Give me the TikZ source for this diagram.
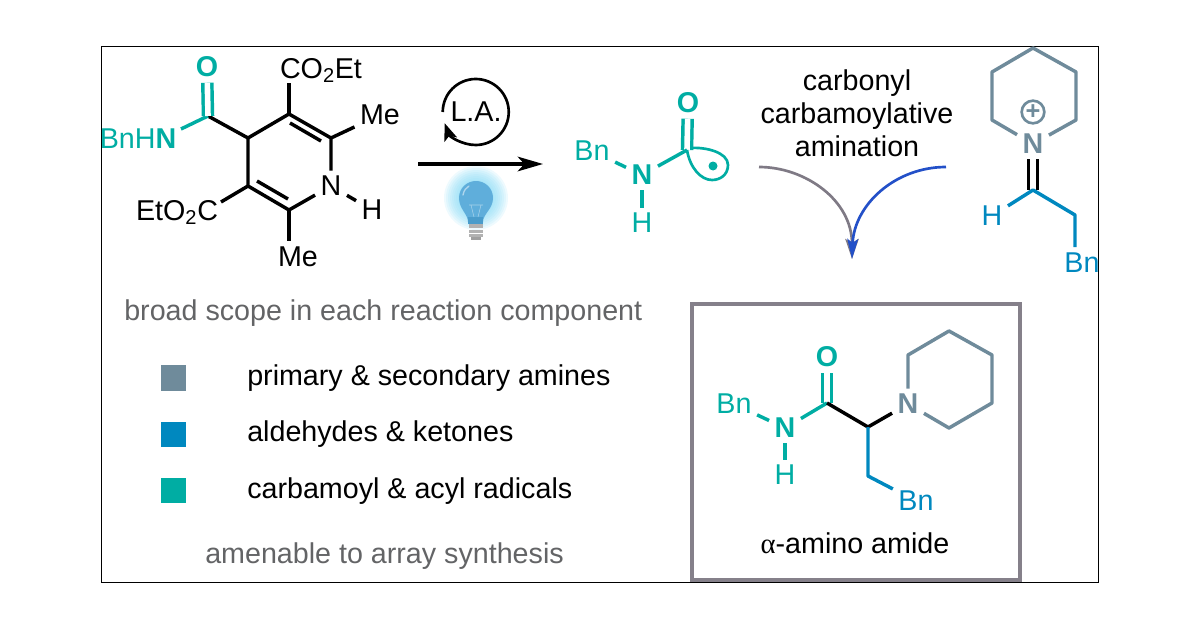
\documentclass[tikz,border=0pt]{standalone}
\usepackage{fontspec}
\setmainfont{Liberation Sans}
\newfontfamily\greekserif{Liberation Serif}
\usetikzlibrary{arrows.meta}
\definecolor{tealc}{HTML}{00ADA3}
\definecolor{slatec}{HTML}{6F8B9B}
\definecolor{bluec}{HTML}{0088BF}
\definecolor{textgray}{HTML}{636466}
\definecolor{boxgray}{HTML}{85808A}
\definecolor{curvegray}{HTML}{7F7A85}
\definecolor{curveblue}{HTML}{2350C8}
\definecolor{glowc}{HTML}{7FD8F5}
\definecolor{bulbc}{HTML}{5FAEDB}
\definecolor{neckc}{HTML}{4A9CCB}
\tikzset{
  atom/.style={inner sep=4pt, font=\fontsize{21.5}{25}\selectfont},
  txtlabel/.style={inner sep=0pt, anchor=base, font=\fontsize{21.5}{25}\selectfont},
  boldatom/.style={atom, font=\fontsize{21.5}{25}\selectfont\bfseries},
  bond/.style={line width=2.6pt, line join=round},
  dbond/.style={bond, double=white, double distance=4.2pt},
  swatch/.style={minimum size=19pt, inner sep=0pt}
}
\begin{document}
\begin{tikzpicture}[x=0.75pt, y=-0.75pt]
  \useasboundingbox (0,0) rectangle (1200,628);
  \draw[line width=0.75pt] (101,46) rectangle (1098,582);
  % dihydropyridine
  \coordinate (c4) at (248,138);
  \coordinate (c3) at (289,114);
  \coordinate (c2) at (331,138);
  \coordinate (c5) at (248,186);
  \coordinate (c6) at (289,210);
  \coordinate (c3in) at (290,123);
  \coordinate (c2in) at (321,141);
  \coordinate (c5in) at (257,181);
  \coordinate (c6in) at (288,199);
  \coordinate (cam) at (208,116);
  \coordinate (camend) at (181,129);
  \coordinate (esttop) at (289,83);
  \coordinate (estlow) at (221,202);
  \coordinate (metop) at (289,241);
  \node[atom] (dhpn) at (331,186) {N};
  \node[atom] (dhph) at (372,210) {H};
  \node[atom] (me1) at (380,115) {Me};
  \node[atom] (me2) at (298,257) {Me};
  \node[boldatom, text=tealc] (camo) at (207,67) {O};
  \node[txtlabel, text=tealc] (bnhn) at (138,148) {BnH\textbf{N}};
  \node[txtlabel] (est1) at (321,78) {CO\textsubscript{2}Et};
  \node[txtlabel] (est2) at (177,220) {EtO\textsubscript{2}C};

  \draw[bond] (cam) -- (c4) -- (c3) -- (c2) -- (dhpn);
  \draw[bond] (c4) -- (c5) -- (c6) -- (dhpn);
  \draw[bond, tealc] (camend) -- (cam);
  \draw[dbond, tealc] (cam) -- (camo);
  \draw[bond] (c3in) -- (c2in);
  \draw[bond] (c5in) -- (c6in);
  \draw[bond] (c3) -- (esttop);
  \draw[bond] (c5) -- (estlow);
  \draw[bond] (c2) -- (me1);
  \draw[bond] (c6) -- (metop);
  \draw[bond] (dhpn) -- (dhph);

  % arrow, catalyst and lamp
  \coordinate (arrowa) at (418,164);
  \coordinate (arrowb) at (543,164);
  \draw[line width=2.3pt, -{Stealth[length=19pt, width=11pt, inset=5pt]}] (arrowa) -- (arrowb);
  \node[atom, circle, minimum size=49.5pt, inner sep=0pt] (la) at (476,112) {L.A.};
  \draw[line width=2pt, -{Stealth[length=13pt, width=10pt, inset=3pt]}] (la.west) arc[start angle=180, end angle=520, radius=33];

  \foreach \r in {18,20,...,32}
    \fill[glowc, opacity=.13] (476,198) circle[radius=\r];
  \fill[bulbc] (468,222) .. controls (468,214) and (459,209) .. (459,198) .. controls (459,188) and (467,181) .. (476,181) .. controls (485,181) and (493,188) .. (493,198) .. controls (493,209) and (483,214) .. (483,222) -- cycle;
  \fill[neckc] (468,217) rectangle (483,224);
  \draw[white, opacity=.45, line width=0.4pt] (469,205) -- (483,205) (471,205) -- (474,217) (481,205) -- (478,217);
  \draw[white, opacity=.5, line width=1pt, line cap=round] (463,195) .. controls (464,190) and (466,188) .. (469,186);
  \fill[gray!60] (469,224) rectangle (483,228);
  \fill[gray!60] (469,229.5) rectangle (483,232.5);
  \fill[gray!60] (469,234) rectangle (483,237);
  \fill[gray!75] (471,237) rectangle (481,240);

  % carbamoyl radical
  \coordinate (radc) at (687,150);
  \node[boldatom, text=tealc] (rado) at (688,103) {O};
  \node[boldatom, text=tealc] (radn) at (642,175) {N};
  \node[atom, text=tealc] (radh) at (642,223) {H};
  \node[atom, text=tealc] (radbn) at (592,151) {Bn};
  \draw[dbond, tealc] (radc) -- (rado);
  \draw[bond, tealc] (radn) -- (radc);
  \draw[bond, tealc] (radbn) -- (radn);
  \draw[bond, tealc] (radn) -- (radh);
  \draw[tealc, line width=2pt] (radc) ++(4,-2) .. controls (705,147) and (728,152) .. (728,165) .. controls (728,175) and (720,180) .. (712,180) .. controls (701,180) and (690,168) .. (687,150);
  \fill[tealc] (713,166) circle[radius=4.5];

  % curved arrows
  \node[atom, align=center, font=\fontsize{21.5}{24.75}\selectfont] (title) at (857,113) {carbonyl\\carbamoylative\\amination};
  \coordinate (grayfrom) at (759,167);
  \coordinate (bluefrom) at (946,167);
  \coordinate (meet) at (852,259);
  \draw[line width=2pt, curvegray, -{Stealth[length=15pt, width=10pt, inset=3pt]}] (grayfrom) .. controls (805,167) and (852,200) .. (meet);
  \draw[line width=2pt, curveblue, -{Stealth[length=15pt, width=8pt, inset=3pt]}] (bluefrom) .. controls (895,167) and (854,205) .. (meet);

  % iminium
  \node[boldatom, text=slatec] (imn) at (1033,144) {N};
  \coordinate (im1) at (992,120);
  \coordinate (im2) at (992,72);
  \coordinate (im3) at (1033,48);
  \coordinate (im4) at (1076,72);
  \coordinate (im5) at (1076,120);
  \coordinate (imc) at (1033,190);
  \coordinate (imch) at (1075,215);
  \coordinate (imbot) at (1075,247);
  \node[circle, draw=slatec, line width=2pt, minimum size=17pt, inner sep=0pt, text=slatec, font=\fontsize{19}{20}\bfseries\selectfont] (implus) at (1033,112) {+};
  \node[atom, text=bluec] (imh) at (992,216) {H};
  \node[atom, text=bluec] (imbn) at (1082,263) {Bn};
  \draw[bond, slatec] (imn) -- (im1) -- (im2) -- (im3) -- (im4) -- (im5) -- (imn);
  \draw[dbond] (imn) -- (imc);
  \draw[bond, bluec] (imh) -- (imc) -- (imch) -- (imbot);

  % legend
  \node[txtlabel, anchor=base west, text=textgray] (scope) at (124,320) {broad scope in each reaction component};
  \node[swatch, fill=slatec] (sw1) at (173.5,378) {};
  \node[swatch, fill=bluec] (sw2) at (173.5,434.5) {};
  \node[swatch, fill=tealc] (sw3) at (173.5,490.5) {};
  \node[txtlabel, anchor=base west] (leg1) at (247,385) {primary \& secondary amines};
  \node[txtlabel, anchor=base west] (leg2) at (247,441) {aldehydes \& ketones};
  \node[txtlabel, anchor=base west] (leg3) at (247,498) {carbamoyl \& acyl radicals};
  \node[txtlabel, anchor=base west, text=textgray] (array) at (205,563) {amenable to array synthesis};

  % product
  \draw[boxgray, line width=2.3pt] (692,304) rectangle (1020,580);
  \coordinate (pc) at (827,403);
  \coordinate (pca) at (868,427);
  \coordinate (pch) at (868,476);
  \node[boldatom, text=tealc] (po) at (827,357) {O};
  \node[boldatom, text=tealc] (pn) at (785,428) {N};
  \node[atom, text=tealc] (ph) at (785,475) {H};
  \node[atom, text=tealc] (pbn) at (734,404) {Bn};
  \node[boldatom, text=slatec] (ppn) at (908,404) {N};
  \node[atom, text=bluec] (pbn2) at (916,501) {Bn};
  \coordinate (pr1) at (908,355);
  \coordinate (pr2) at (949,331);
  \coordinate (pr3) at (992,355);
  \coordinate (pr4) at (992,403);
  \coordinate (pr5) at (949,428);
  \draw[dbond, tealc] (pc) -- (po);
  \draw[bond, tealc] (pn) -- (pc);
  \draw[bond, tealc] (pbn) -- (pn);
  \draw[bond, tealc] (pn) -- (ph);
  \draw[bond] (pc) -- (pca) -- (ppn);
  \draw[bond, bluec] (pca) -- (pch) -- (pbn2);
  \draw[bond, slatec] (ppn) -- (pr1) -- (pr2) -- (pr3) -- (pr4) -- (pr5) -- (ppn);
  \node[txtlabel] (prodname) at (855,553) {{\greekserif α}-amino amide};
\end{tikzpicture}
\end{document}
